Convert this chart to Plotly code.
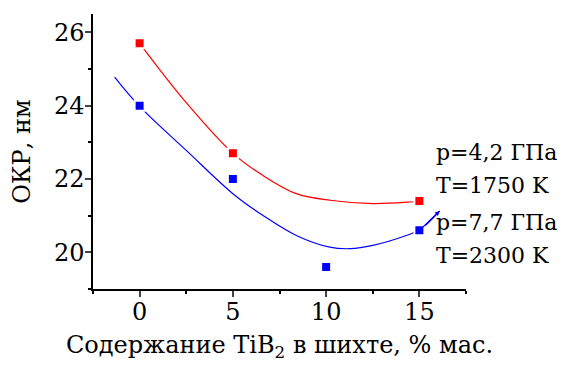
import plotly.graph_objects as go

red_x = [0, 5, 15]
red_y = [25.7, 22.7, 21.4]
blue_x = [0, 5, 10, 15]
blue_y = [24.0, 22.0, 19.6, 20.6]

red_fit_x = [0, 2.5, 5, 6.6, 8.4, 10.2, 12.5, 14.7, 15]
red_fit_y = [25.7, 24.08, 22.7, 22.1, 21.6, 21.42, 21.33, 21.38, 21.39]
blue_fit_x = [-1.34, 0, 2.5, 5, 6.6, 8.4, 10.2, 11.3, 12.5, 14.3, 15.05, 16.09]
blue_fit_y = [24.78, 23.98, 22.78, 21.6, 21.01, 20.46, 20.14, 20.1, 20.19, 20.46, 20.62, 21.13]

legend_lines = ["p=4,2 ГПа", "T=1750 K", "p=7,7 ГПа", "T=2300 K"]
legend_ypos = [0.495, 0.378, 0.243, 0.122]

x_title = "Содержание TiB<sub>2</sub> в шихте, % мас."
y_title = "ОКР, нм"

RED = "#FF0000"
BLUE = "#0000FF"
FONT = "DejaVu Serif"
FS = 24
FS_LEG = 22

fig = go.Figure()
fig.add_trace(go.Scatter(x=red_fit_x, y=red_fit_y, mode="lines",
                         line=dict(color=RED, width=1.2, shape="spline"), hoverinfo="skip"))
fig.add_trace(go.Scatter(x=blue_fit_x, y=blue_fit_y, mode="lines",
                         line=dict(color=BLUE, width=1.2, shape="spline"), hoverinfo="skip"))
fig.add_trace(go.Scatter(x=red_x, y=red_y, mode="markers",
                         marker=dict(symbol="square", size=10, color=RED,
                                     line=dict(color="white", width=2))))
fig.add_trace(go.Scatter(x=blue_x, y=blue_y, mode="markers",
                         marker=dict(symbol="square", size=10, color=BLUE,
                                     line=dict(color="white", width=2))))

fig.add_annotation(x=blue_fit_x[-1], y=blue_fit_y[-1], ax=blue_fit_x[-2], ay=blue_fit_y[-2],
                   xref="x", yref="y", axref="x", ayref="y", text="", showarrow=True,
                   arrowhead=2, arrowsize=0.8, arrowwidth=1.2, arrowcolor=BLUE, standoff=0)

for txt, yp in zip(legend_lines, legend_ypos):
    fig.add_annotation(x=0.915, y=yp, xref="paper", yref="paper", text=txt,
                       showarrow=False, xanchor="left", yanchor="middle",
                       font=dict(family=FONT, size=FS_LEG, color="black"))

fig.update_layout(
    width=560, height=359,
    margin=dict(l=85, r=102, t=6, b=78, autoexpand=False),
    paper_bgcolor="white", plot_bgcolor="white",
    showlegend=False,
    font=dict(family=FONT, size=FS, color="black"),
)
fig.update_xaxes(range=[-2.5, 17.5], tick0=0, dtick=5, ticks="outside", ticklen=6,
                 tickwidth=1.5, showline=True, linewidth=1.5, linecolor="black",
                 showgrid=False, zeroline=False, mirror=False, automargin=False,
                 ticklabelstandoff=-6,
                 minor=dict(dtick=2.5, tick0=0, ticks="outside", ticklen=3.5, tickwidth=1.5,
                            tickcolor="black", showgrid=False),
                 tickfont=dict(family=FONT, size=FS),
                 title=dict(text=x_title, font=dict(family=FONT, size=FS), standoff=12))
fig.update_yaxes(range=[19, 26.5], tick0=20, dtick=2, ticks="outside", ticklen=6,
                 tickwidth=1.5, showline=True, linewidth=1.5, linecolor="black",
                 showgrid=False, zeroline=False, mirror=False, automargin=False,
                 ticklabelstandoff=-4,
                 minor=dict(dtick=1, tick0=20, ticks="outside", ticklen=3.5, tickwidth=1.5,
                            tickcolor="black", showgrid=False),
                 tickfont=dict(family=FONT, size=FS),
                 title=dict(text=y_title, font=dict(family=FONT, size=FS), standoff=20))

fig.write_html("out.html")
